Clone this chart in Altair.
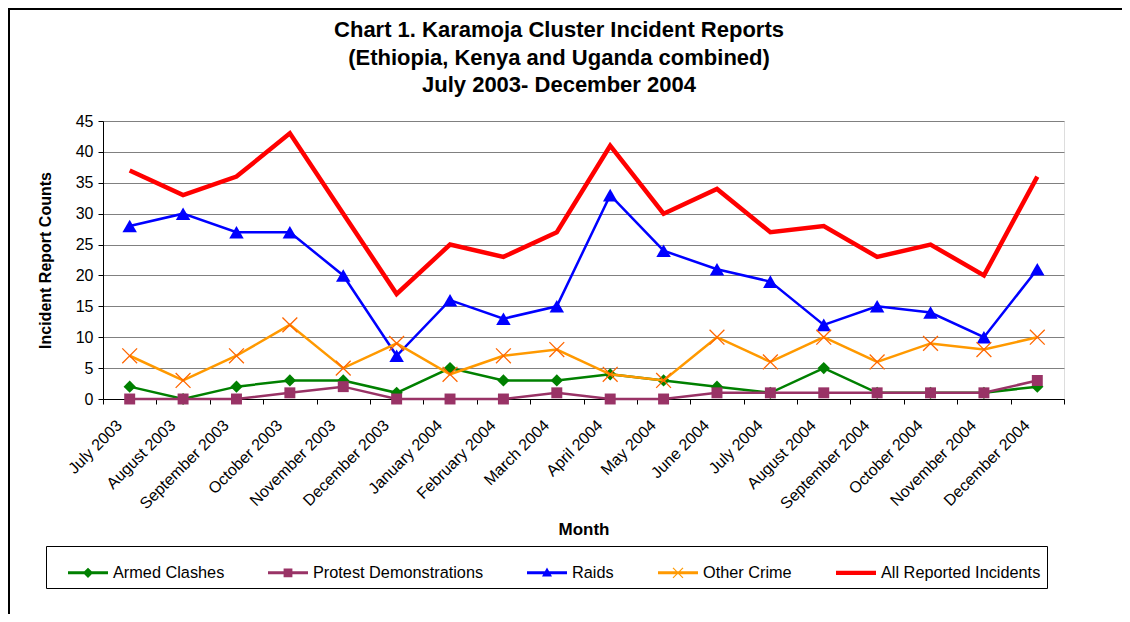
import altair as alt
import pandas as pd

months = ["July 2003", "August 2003", "September 2003", "October 2003", "November 2003",
          "December 2003", "January 2004", "February 2004", "March 2004", "April 2004",
          "May 2004", "June 2004", "July 2004", "August 2004", "September 2004",
          "October 2004", "November 2004", "December 2004"]
armed = [2, 0, 2, 3, 3, 1, 5, 3, 3, 4, 3, 2, 1, 5, 1, 1, 1, 2]
protest = [0, 0, 0, 1, 2, 0, 0, 0, 1, 0, 0, 1, 1, 1, 1, 1, 1, 3]
raids = [28, 30, 27, 27, 20, 7, 16, 13, 15, 33, 24, 21, 19, 12, 15, 14, 10, 21]
other = [7, 3, 7, 12, 5, 9, 4, 7, 8, 4, 3, 10, 6, 10, 6, 9, 8, 10]
all_reported = [37, 33, 36, 43, 30, 17, 25, 23, 27, 41, 30, 34, 27, 28, 23, 25, 20, 36]

series_names = ["Armed Clashes", "Protest Demonstrations", "Raids", "Other Crime",
                "All Reported Incidents"]
series_values = [armed, protest, raids, other, all_reported]
line_colors = ["#008000", "#993366", "#0000FF", "#FF9900", "#FF0000"]
marker_colors = ["#008000", "#993366", "#0000FF", "#FF6600", None]
marker_shapes = ["diamond", "square", "triangle-up", "M-1,-1L1,1M-1,1L1,-1", None]
marker_sizes = [150, 120, 210, 220, 0]
line_widths = [2.5, 2.5, 2.5, 2.5, 4.5]

# legend symbols: line segment plus marker, as filled paths
legend_paths = [
    "M-1,-0.075H1V0.075H-1Z M0,-0.26L0.26,0L0,0.26L-0.26,0Z",
    "M-1,-0.075H1V0.075H-1Z M-0.22,-0.22H0.22V0.22H-0.22Z",
    "M-1,-0.075H1V0.075H-1Z M0,-0.27L0.25,0.18L-0.25,0.18Z",
    "M-1,-0.075H1V0.075H-1Z M-0.229,-0.271L0.271,0.229L0.229,0.271L-0.271,-0.229Z "
    "M0.271,-0.229L-0.229,0.271L-0.271,0.229L0.229,-0.271Z",
    "M-1,-0.11H1V0.11H-1Z",
]

rows = []
for name, vals in zip(series_names, series_values):
    for m, v in zip(months, vals):
        rows.append({"month": m, "series": name, "value": v})
df = pd.DataFrame(rows)

FONT = "Liberation Sans"

x_enc = alt.X(
    "month:O", sort=months,
    scale=alt.Scale(type="band", paddingInner=0, paddingOuter=0),
    axis=alt.Axis(
        title="Month", labelAngle=-45, labelAlign="right", labelBaseline="bottom",
        labelFontSize=16, labelPadding=24, labelOffset=-5, labelFont=FONT,
        labelColor="black",
        tickBand="extent", ticks=True, tickSize=5, tickColor="black",
        domainColor="black", grid=False,
        titleFont=FONT, titleFontSize=17, titleFontWeight="bold", titleColor="black",
        titleY=122, titleBaseline="top",
    ),
)
y_enc = alt.Y(
    "value:Q",
    scale=alt.Scale(domain=[0, 45], nice=False),
    axis=alt.Axis(
        title="Incident Report Counts", values=list(range(0, 46, 5)),
        labelFontSize=16, labelFont=FONT, labelColor="black", labelPadding=5,
        tickSize=5, tickColor="black", domainColor="black",
        grid=True, gridColor="#808080", gridWidth=1,
        titleFont=FONT, titleFontSize=16, titleFontWeight="bold", titleColor="black",
        titlePadding=22,
    ),
)

base = alt.Chart(df)
layers = []
for i, name in enumerate(series_names):
    sub = base.transform_filter(alt.datum.series == name)
    layers.append(
        sub.mark_line(strokeWidth=line_widths[i], color=line_colors[i]).encode(x=x_enc, y=y_enc)
    )
    if marker_shapes[i] is not None:
        filled = not marker_shapes[i].startswith("M")
        if filled:
            pt = sub.mark_point(shape=marker_shapes[i], filled=True, size=marker_sizes[i],
                                color=marker_colors[i], opacity=1)
        else:
            pt = sub.mark_point(shape=marker_shapes[i], filled=False, size=marker_sizes[i],
                                color=marker_colors[i], strokeWidth=1.3, opacity=1)
        layers.append(pt.encode(x=x_enc, y=y_enc))

legend_layer = base.transform_filter("datum.value < 0").mark_point(filled=True, opacity=1).encode(
    x=x_enc, y=y_enc,
    color=alt.Color("series:N", scale=alt.Scale(domain=series_names, range=line_colors),
                    legend=alt.Legend(
                        title=None, orient="none", legendX=-57, legendY=425,
                        direction="horizontal", strokeColor="black", padding=6.5,
                        symbolSize=1600, symbolStrokeWidth=0, symbolOffset=15.5,
                        labelFont=FONT, labelFontSize=16.3, labelColor="black",
                        labelOffset=5, labelLimit=0,
                        columnPadding=28, symbolOpacity=1)),
    shape=alt.Shape("series:N", scale=alt.Scale(domain=series_names, range=legend_paths)),
)
layers.append(legend_layer)

frame_left = alt.Chart(df).mark_rule(color="black", strokeWidth=1.5).encode(
    x=alt.value(-94.5), y=alt.value(-112), y2=alt.value(493))
frame_top = alt.Chart(df).mark_rule(color="black", strokeWidth=1.5).encode(
    x=alt.value(-95), x2=alt.value(1019), y=alt.value(-112))

chart = alt.layer(*layers, frame_left, frame_top).properties(
    width=961, height=278,
    autosize=alt.AutoSizeParams(type="none"),
    padding={"left": 95, "top": 113, "right": 58, "bottom": 215},
    title=alt.TitleParams(
        text=["Chart 1. Karamoja Cluster Incident Reports",
              "(Ethiopia, Kenya and Uganda combined)",
              "July 2003- December 2004"],
        font=FONT, fontSize=22, fontWeight="bold", color="black",
        anchor="middle", frame="group", dx=-24.5, lineHeight=27.5, offset=-89,
    ),
).configure_view(stroke="#808080").configure(background="white")

chart.save("out.html", embed_options={"renderer": "svg", "actions": False})
